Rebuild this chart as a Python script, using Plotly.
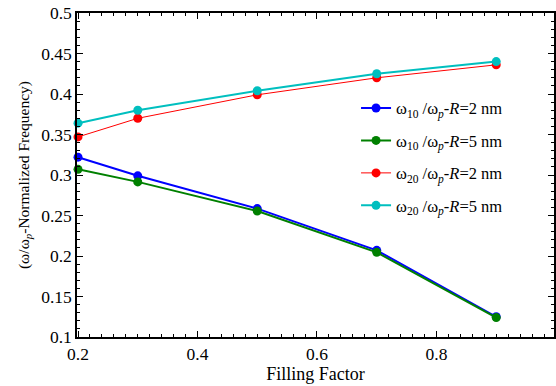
import plotly.graph_objects as go

filling = [0.2, 0.3, 0.5, 0.7, 0.9]
w10_R2 = [0.322, 0.299, 0.2585, 0.207, 0.125]
w10_R5 = [0.307, 0.2915, 0.2555, 0.2045, 0.124]
w20_R2 = [0.347, 0.370, 0.399, 0.420, 0.436]
w20_R5 = [0.364, 0.380, 0.404, 0.425, 0.440]

names = [
    "ω<sub>10</sub> /ω<sub><i>p</i></sub>-<i>R</i>=2 nm",
    "ω<sub>10</sub> /ω<sub><i>p</i></sub>-<i>R</i>=5 nm",
    "ω<sub>20</sub> /ω<sub><i>p</i></sub>-<i>R</i>=2 nm",
    "ω<sub>20</sub> /ω<sub><i>p</i></sub>-<i>R</i>=5 nm",
]
series = [w10_R2, w10_R5, w20_R2, w20_R5]
colors = ["#0000ff", "#008000", "#ff0000", "#00bfbf"]
widths = [2, 2, 1, 2]

fig = go.Figure()
for i, (ys, nm, c, w) in enumerate(zip(series, names, colors, widths)):
    fig.add_trace(go.Scatter(
        x=filling, y=ys, name=nm, mode="lines+markers",
        line=dict(color=c, width=w),
        marker=dict(color=c, size=9),
        legendgroup=str(i), cliponaxis=False,
    ))

font = "Liberation Serif, Times New Roman, serif"
axis_common = dict(
    showline=True, linecolor="black", linewidth=1.5, mirror="ticks",
    ticks="inside", ticklen=6, tickwidth=1, tickcolor="black",
    showgrid=False, zeroline=False,
    tickfont=dict(family=font, size=17.5, color="black"),
)
fig.update_xaxes(
    range=[0.1983, 0.9967], tick0=0.2, dtick=0.2,
    minor=dict(dtick=0.02, ticks="inside", ticklen=3, tickcolor="black", showgrid=False),
    title=dict(text="Filling Factor", font=dict(family=font, size=18, color="black"), standoff=5),
    **axis_common,
)
fig.update_yaxes(
    range=[0.1, 0.5], tick0=0.1, dtick=0.05,
    minor=dict(dtick=0.01, ticks="inside", ticklen=3, tickcolor="black", showgrid=False),
    title=dict(text="(ω/ω<sub><i>p</i></sub>-Normalized Frequency)", font=dict(family=font, size=15.5, color="black"), standoff=8),
    **axis_common,
)
fig.update_layout(
    width=556, height=386,
    margin=dict(l=77, r=0, t=13, b=49),
    paper_bgcolor="white", plot_bgcolor="white",
    font=dict(family=font, size=17, color="black"),
    legend=dict(x=0.585, y=0.76, xanchor="left", yanchor="top",
                bgcolor="rgba(0,0,0,0)", tracegroupgap=8,
                font=dict(family=font, size=16.5, color="black")),
)
fig.write_html("out.html")
